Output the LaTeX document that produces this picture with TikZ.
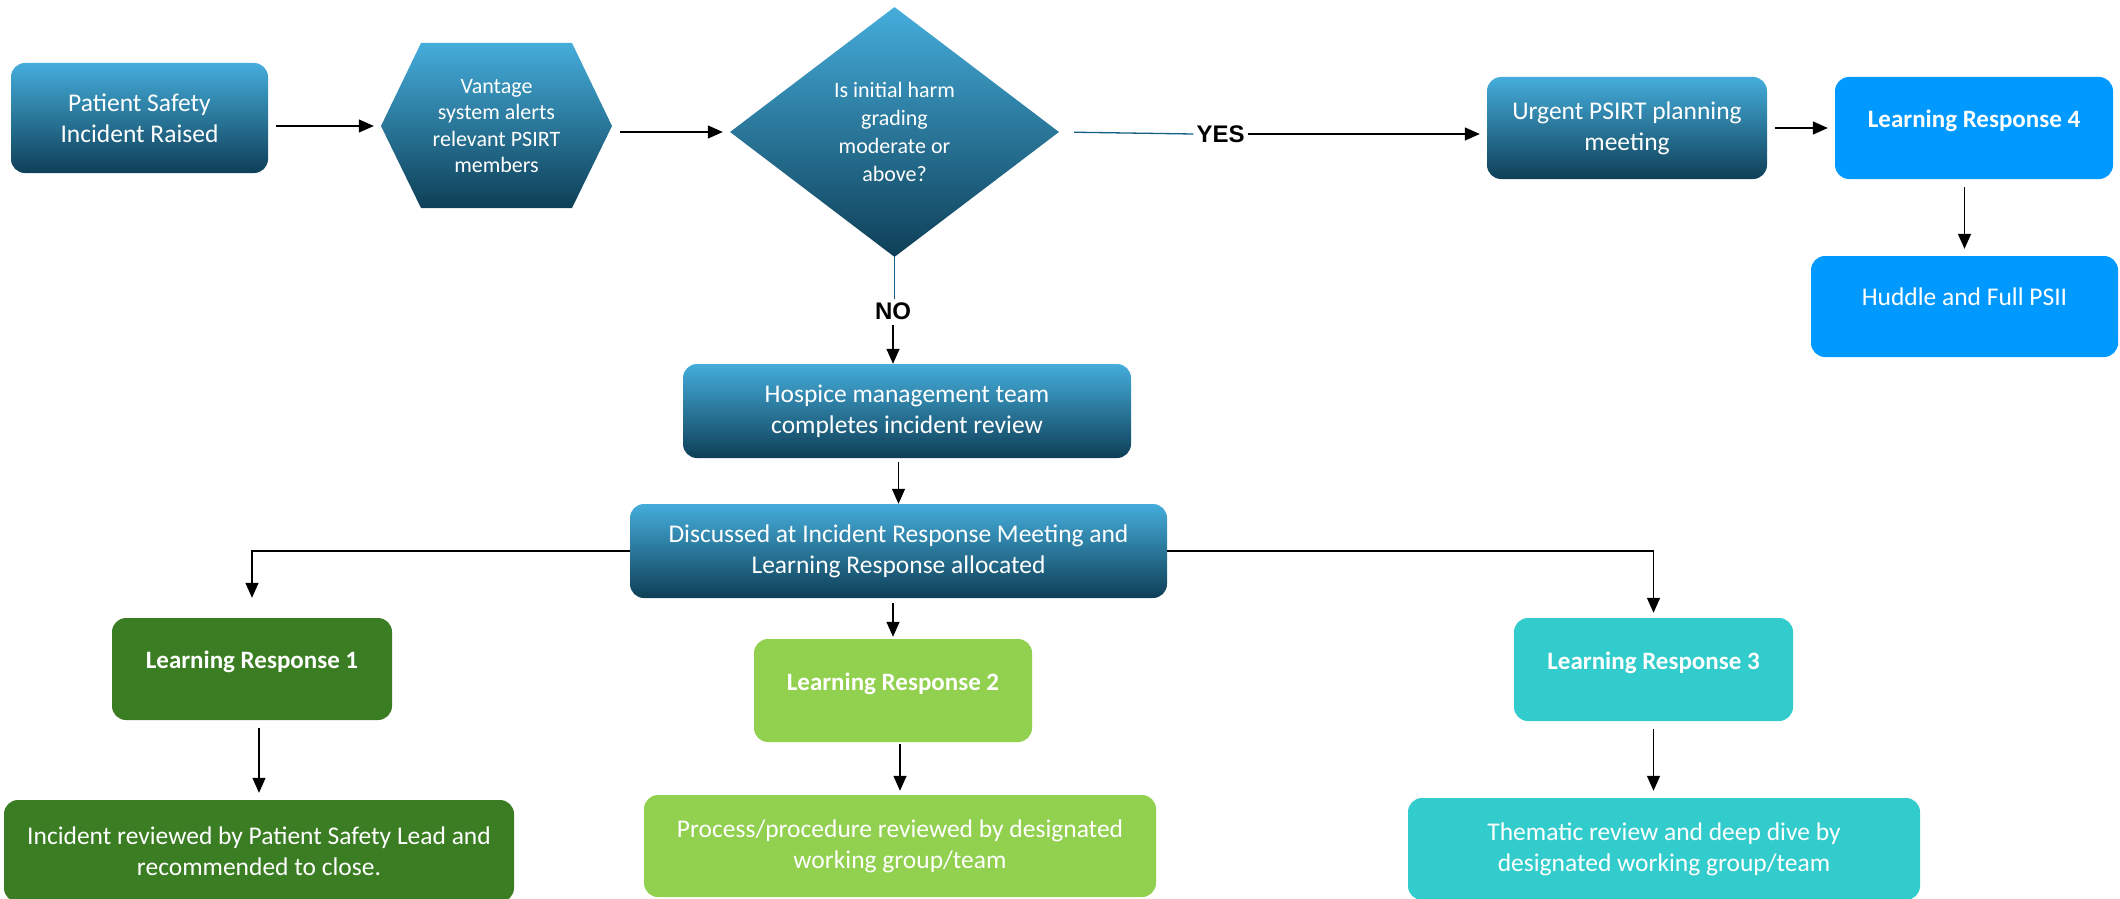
\documentclass[tikz,border=0pt]{standalone}
\usepackage{fontspec}
\setmainfont{Carlito}
\newfontfamily\tagfont{Liberation Sans}
\usetikzlibrary{shapes.geometric,arrows.meta}

\definecolor{psTop}{HTML}{45ADDB}
\definecolor{psBot}{HTML}{0E3F57}
\definecolor{lrBlue}{HTML}{0099FF}
\definecolor{lrDark}{HTML}{3B7D23}
\definecolor{lrLight}{HTML}{92D050}
\definecolor{lrTeal}{HTML}{33CCCC}
\definecolor{linkBlue}{HTML}{156082}

\begin{document}
\begin{tikzpicture}[x=1pt, y=-1pt,
  box/.style={rectangle, rounded corners=14pt, inner sep=0pt, align=center, text=white, font=\fontsize{25.5}{31}\selectfont},
  gradbox/.style={box, top color=psTop, bottom color=psBot},
  lrbox/.style={box, font=\fontsize{25}{31}\selectfont\bfseries, text depth=18pt, minimum width=279, minimum height=102},
  hexbox/.style={rectangle, inner sep=0pt, align=center, text=white, font=\fontsize{22}{26.5}\selectfont},
  diabox/.style={diamond, inner sep=0pt, align=center, text=white, top color=psTop, bottom color=psBot, font=\fontsize{22}{28}\selectfont},
  tag/.style={inner sep=3pt, font=\tagfont\bfseries\fontsize{24}{24}\selectfont},
  flow/.style={line width=1.4pt, -{Triangle[length=15pt,width=13pt]}, shorten <=8pt, shorten >=7pt},
  link/.style={line width=1.3pt, draw=linkBlue}]

\useasboundingbox (0,0) rectangle (2120,899);

\shade[top color=psTop, bottom color=psBot] (421,43) -- (572,43) -- (612,126) -- (572,208) -- (421,208) -- (381,126) -- cycle;

\node[gradbox, minimum width=257, minimum height=110] (psi) at (139.5,118) {Patient Safety\\Incident Raised};
\node[hexbox, minimum width=231, minimum height=165] (vant) at (496.5,126) {Vantage\\system alerts\\relevant PSIRT\\members};
\node[diabox, minimum width=329, minimum height=250] (grade) at (894.5,132) {Is initial harm\\grading\\moderate or\\above?};
\node[gradbox, minimum width=280, minimum height=102] (urg) at (1627,128) {Urgent PSIRT planning\\meeting};
\node[lrbox, fill=lrBlue, minimum width=278] (lr4) at (1974,128) {Learning Response 4};
\node[box, fill=lrBlue, minimum width=307, minimum height=101, text depth=20pt] (hud) at (1964.5,306.5) {Huddle and Full PSII};

\node[tag] (yes) at (1220.5,134) {YES};
\node[tag] (no) at (893,311) {NO};

\node[gradbox, minimum width=448, minimum height=94] (hos) at (907,411) {Hospice management team\\completes incident review};
\node[gradbox, minimum width=537, minimum height=94] (disc) at (898.5,551) {Discussed at Incident Response Meeting and\\Learning Response allocated};

\node[lrbox, fill=lrDark, minimum width=280] (lr1) at (252,669) {Learning Response 1};
\node[lrbox, fill=lrLight, minimum width=278, minimum height=103] (lr2) at (893,690.5) {Learning Response 2};
\node[lrbox, fill=lrTeal, minimum height=103] (lr3) at (1653.5,669.5) {Learning Response 3};

\node[box, fill=lrDark, minimum width=510, minimum height=102] (inc) at (259,851) {Incident reviewed by Patient Safety Lead and\\recommended to close.};
\node[box, fill=lrLight, minimum width=512, minimum height=102] (proc) at (900,846) {Process/procedure reviewed by designated\\working group/team};
\node[box, fill=lrTeal, minimum width=512, minimum height=102] (thm) at (1664,849) {Thematic review and deep dive by\\designated working group/team};

\draw[flow] (psi.east |- vant.west) -- (vant.west);
\draw[flow] (vant.east |- grade.west) -- (grade.west);
\draw[link, shorten <=15pt] (grade.east) -- (yes.west);
\draw[flow, shorten <=0pt] (yes.east) -- (yes.east -| urg.west);
\draw[flow] (urg.east) -- (lr4.west);
\draw[flow] (lr4.south -| hud) -- (hud.north);

\draw[link] (grade.south) -- (grade.south |- no.north);
\draw[flow, shorten <=2pt, shorten >=0pt] (no.south) -- (no.south |- hos.north);
\draw[flow, shorten <=4pt, shorten >=0pt] (hos.south -| disc) -- (disc.north);

\draw[flow, shorten <=0pt, shorten >=20pt] (disc.west) -| (lr1.north);
\draw[flow, shorten <=5pt, shorten >=2pt] (disc.south -| lr2) -- (lr2.north);
\draw[flow, shorten <=0pt, shorten >=5pt] (disc.east) -| (lr3.north);

\draw[flow] (lr1.south -| inc) -- (inc.north);
\draw[flow, shorten <=2pt, shorten >=4pt] (lr2.south -| proc) -- (proc.north);
\draw[flow] (lr3.south) -- (lr3.south |- thm.north);
\end{tikzpicture}
\end{document}
